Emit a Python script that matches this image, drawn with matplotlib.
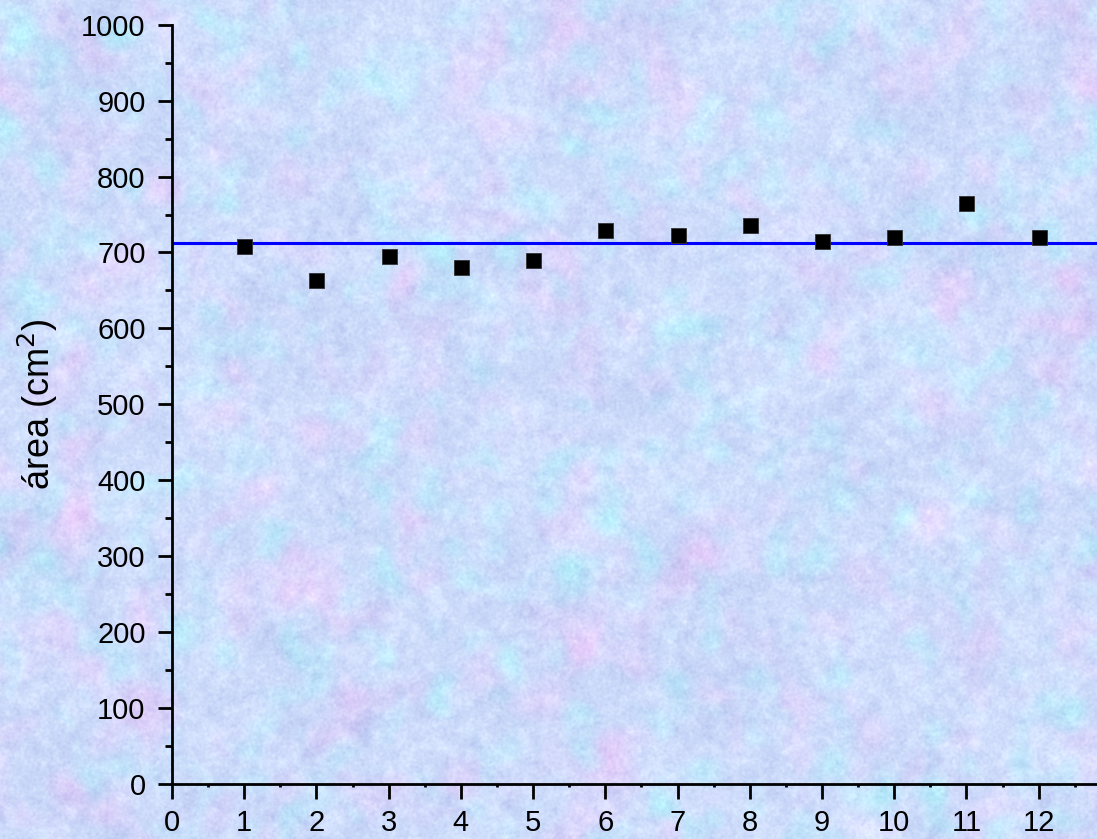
import numpy as np
import matplotlib
matplotlib.use("Agg")
import matplotlib.pyplot as plt
from matplotlib.ticker import MultipleLocator

plt.rcParams['font.family'] = ['Liberation Sans', 'DejaVu Sans']

# measurements (cm^2) per sample
sample = [1, 2, 3, 4, 5, 6, 7, 8, 9, 10, 11, 12]
area = [708, 664, 695, 681, 690, 730, 723, 736, 715, 720, 765, 721]
mean_area = np.mean(area)

W, H, DPI = 1097, 839, 100


def smooth(a, sigma):
    # gaussian blur through FFT, wraps at the borders
    ky = np.fft.fftfreq(a.shape[0])[:, None]
    kx = np.fft.fftfreq(a.shape[1])[None, :]
    g = np.exp(-2 * (np.pi * sigma) ** 2 * (kx ** 2 + ky ** 2))
    return np.real(np.fft.ifft2(np.fft.fft2(a) * g))


def norm(a):
    return (a - a.mean()) / a.std()


# pastel paper texture for the background
rng = np.random.default_rng(7)
big = norm(smooth(rng.standard_normal((H, W)), 20))
mid = norm(smooth(rng.standard_normal((H, W)), 4))
fine = norm(smooth(rng.standard_normal((H, W)), 1.0))
pink = norm(smooth(rng.standard_normal((H, W)), 14))
cyan = norm(smooth(rng.standard_normal((H, W)), 10))

base = np.array([206, 220, 251], float)
tex = np.zeros((H, W, 3))
tex[:] = base
tex += (0.4 * big + 0.6 * mid + 0.6 * fine)[..., None] * np.array([6, 6, 3])
tex += np.clip(pink, 0, None)[..., None] * np.array([7, -4, 0])
tex += np.clip(cyan, 0, None)[..., None] * np.array([-7, 5, 0])
tex = np.clip(tex, 0, 255) / 255

fig = plt.figure(figsize=(W / DPI, H / DPI), dpi=DPI)
bg = fig.add_axes([0, 0, 1, 1], zorder=0)
bg.imshow(tex, aspect='auto', interpolation='bilinear')
bg.axis('off')

x0, x1 = 172, 1097
y0, y1 = 784, 24.7
ax = fig.add_axes([x0 / W, 1 - y0 / H, (x1 - x0) / W, (y0 - y1) / H], zorder=1)
ax.patch.set_alpha(0)

ax.axhline(mean_area, color='#0000ff', lw=2.2, zorder=2)
ax.plot(sample, area, 's', color='black', mec='#333333', mew=0.6, ms=10.8,
        ls='none', zorder=3, clip_on=False)

ax.set_xlim(0, (x1 - x0) / 72.22)
ax.set_ylim(0, 1000)

ax.xaxis.set_major_locator(MultipleLocator(1))
ax.xaxis.set_minor_locator(MultipleLocator(0.5))
ax.yaxis.set_major_locator(MultipleLocator(100))
ax.yaxis.set_minor_locator(MultipleLocator(50))

for s in ['top', 'right']:
    ax.spines[s].set_visible(False)
for s in ['left', 'bottom']:
    ax.spines[s].set_linewidth(2.0)

ax.tick_params(axis='y', which='major', direction='out', length=10, width=2.0,
               labelsize=21, pad=9)
ax.tick_params(axis='y', which='minor', direction='out', length=5, width=2.0)
ax.tick_params(axis='x', which='major', direction='out', length=11, width=2.0,
               labelsize=21, pad=7)
ax.tick_params(axis='x', which='minor', direction='out', length=2, width=2.0)

ax.set_ylabel('área (cm$^2$)', fontsize=26, labelpad=15)

fig.savefig('out.png', dpi=DPI)
